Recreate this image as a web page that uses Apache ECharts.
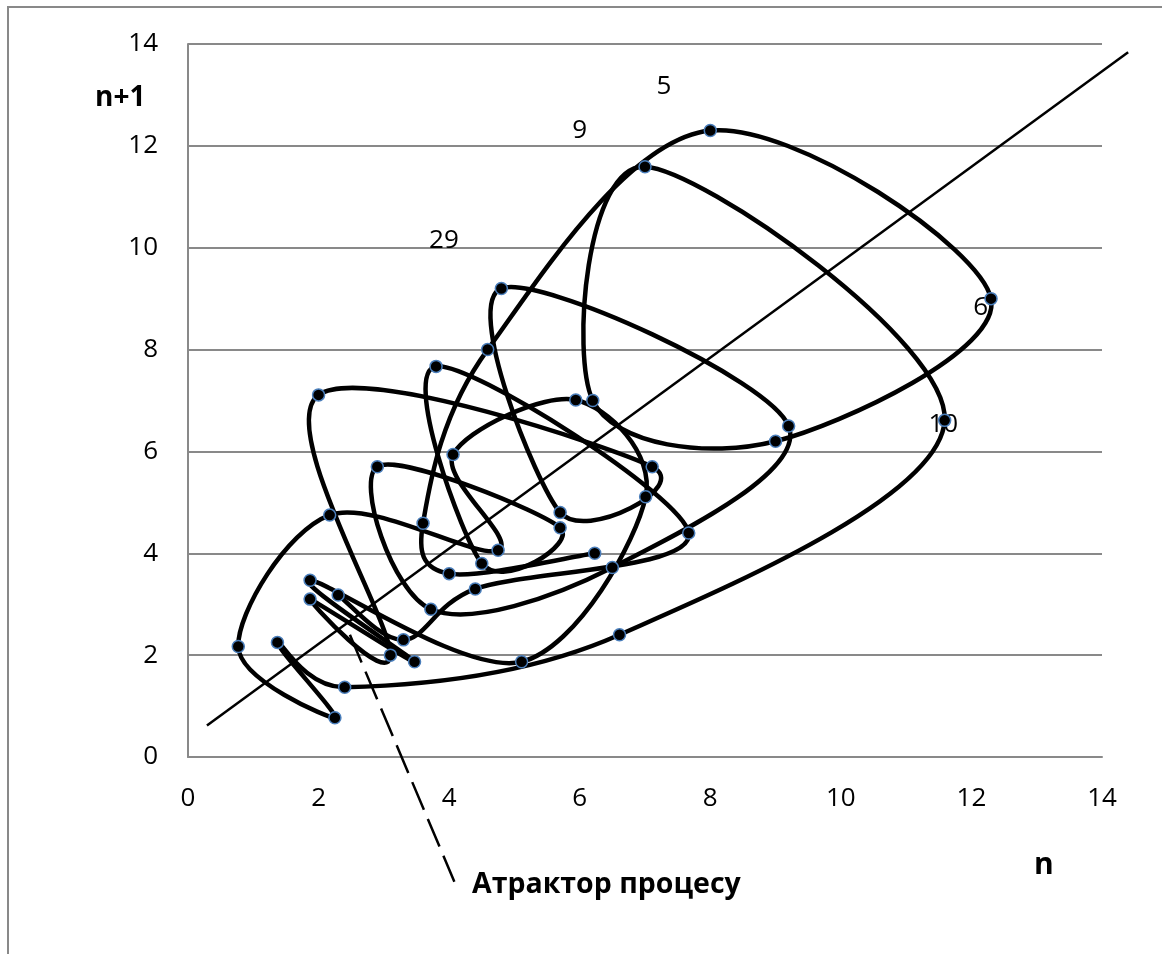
<!DOCTYPE html>
<html><head><meta charset="utf-8">
<script src="https://cdn.jsdelivr.net/npm/echarts@6/dist/echarts.min.js"></script>
<style>html,body{margin:0;padding:0;background:#fff}#chart{width:1162px;height:954px}</style>
</head><body><div id="chart"></div>
<script>
// time series x_n; the phase portrait plots (x_n, x_{n+1})
const seriesValues = [6.23, 4.00, 3.60, 4.59, 8.00, 12.30, 9.00, 6.20, 7.00, 11.59,
  6.61, 2.40, 1.37, 2.25, 0.77, 2.17, 4.75, 4.06, 5.94, 7.01,
  5.11, 1.87, 3.47, 1.87, 3.10, 2.00, 7.11, 5.70, 4.80, 9.20,
  6.50, 3.72, 2.90, 5.70, 4.50, 3.80, 7.67, 4.40, 3.30, 2.30, 3.18];
const axisMin = 0, axisMax = 14, axisStep = 2;
const diagonalLine = [0.29, 0.62, 14.40, 13.84];
const attractorPointer = [2.48, 2.40, 4.08, -2.45];
const labelTexts = ['5', '9', '29', '6', '10'];
const labelX = [7.29, 6.00, 3.92, 12.14, 11.57];
const labelY = [13.16, 12.30, 10.14, 8.83, 6.52];
const xAxisTitle = 'n', yAxisTitle = 'n+1', pointerTitle = 'Атрактор процесу';

const phasePoints = [];
for (let i = 0; i + 1 < seriesValues.length; i++) phasePoints.push([seriesValues[i], seriesValues[i + 1]]);
const labelData = labelX.map((x, i) => [x, labelY[i]]);

const FONT = '"Open Sans", "Liberation Sans", sans-serif';
const chart = echarts.init(document.getElementById('chart'), null, { renderer: 'canvas' });
const axisCommon = {
  type: 'value', min: axisMin, max: axisMax, interval: axisStep,
  axisLine: { show: true, lineStyle: { color: '#898989', width: 2 } },
  axisTick: { show: false },
  axisLabel: { color: '#000', fontSize: 26, fontFamily: FONT }
};
function segmentRenderer(dash, width) {
  return function (params, api) {
    const p1 = api.coord([api.value(0), api.value(1)]);
    const p2 = api.coord([api.value(2), api.value(3)]);
    return { type: 'line', shape: { x1: p1[0], y1: p1[1], x2: p2[0], y2: p2[1] },
      style: { stroke: '#000', lineWidth: width, lineDash: dash, fill: null } };
  };
}
// spreadsheet-style smoothed line: cubic Bezier per segment, control arm = (next - prev)/6,
// limited to half the segment length
function armFor(pPrev, pNext, segLen) {
  let vx = (pNext[0] - pPrev[0]) / 6, vy = (pNext[1] - pPrev[1]) / 6;
  const len = Math.sqrt(vx * vx + vy * vy);
  if (len > segLen / 2 && len > 0) { const k = (segLen / 2) / len; vx *= k; vy *= k; }
  return [vx, vy];
}
function smoothRenderer(params, api) {
  const i = params.dataIndex, n = phasePoints.length;
  if (i >= n - 1) return { type: 'group', children: [] };
  const P = j => api.coord(phasePoints[Math.max(0, Math.min(n - 1, j))]);
  const p0 = P(i - 1), p1 = P(i), p2 = P(i + 1), p3 = P(i + 2);
  const seg = Math.hypot(p2[0] - p1[0], p2[1] - p1[1]);
  const a1 = armFor(p0, p2, seg), a2 = armFor(p1, p3, seg);
  return { type: 'bezierCurve',
    shape: { x1: p1[0], y1: p1[1], cpx1: p1[0] + a1[0], cpy1: p1[1] + a1[1],
             cpx2: p2[0] - a2[0], cpy2: p2[1] - a2[1], x2: p2[0], y2: p2[1] },
    style: { stroke: '#000', lineWidth: 4.5, fill: null, lineCap: 'round' } };
}
chart.setOption({
  animation: false,
  backgroundColor: '#fff',
  grid: { left: 188, right: 60, top: 44, bottom: 197, containLabel: false },
  xAxis: Object.assign({}, axisCommon, {
    splitLine: { show: false },
    axisLabel: Object.assign({}, axisCommon.axisLabel, { margin: 29 })
  }),
  yAxis: Object.assign({}, axisCommon, {
    splitLine: { show: true, lineStyle: { color: '#898989', width: 2 } },
    axisLabel: Object.assign({}, axisCommon.axisLabel, { margin: 30 })
  }),
  graphic: [
    { type: 'rect', z: -10, shape: { x: 8, y: 7, width: 1400, height: 1200 },
      style: { fill: 'none', stroke: '#898989', lineWidth: 2 } },
    { type: 'text', left: 95, top: 84, style: { text: yAxisTitle, font: 'bold 28px ' + FONT, fill: '#000' } },
    { type: 'text', left: 1034, top: 850, style: { text: xAxisTitle, font: 'bold 30px ' + FONT, fill: '#000' } },
    { type: 'text', left: 472, top: 870, style: { text: pointerTitle, font: 'bold 28.5px ' + FONT, fill: '#000' } }
  ],
  series: [
    { type: 'custom', z: 1, clip: false, silent: true, data: labelData,
      renderItem: function (params, api) {
        const p = api.coord([api.value(0), api.value(1)]);
        return { type: 'text', x: p[0], y: p[1],
          style: { text: labelTexts[params.dataIndex], fill: '#000', font: '26px ' + FONT,
                   align: 'center', verticalAlign: 'middle' } };
      } },
    { type: 'custom', z: 2, clip: false, silent: true, data: [diagonalLine],
      renderItem: segmentRenderer(null, 2.5) },
    { type: 'custom', z: 2, clip: false, silent: true, data: [attractorPointer],
      renderItem: segmentRenderer([30, 10], 2.5) },
    { type: 'custom', z: 3, clip: false, silent: true, data: phasePoints,
      renderItem: smoothRenderer },
    { type: 'line', z: 4, data: phasePoints, showAllSymbol: true,
      symbol: 'circle', symbolSize: 12,
      lineStyle: { opacity: 0, width: 0 },
      itemStyle: { color: '#000', borderColor: '#4a7ebb', borderWidth: 1.5 } }
  ]
});
</script></body></html>
